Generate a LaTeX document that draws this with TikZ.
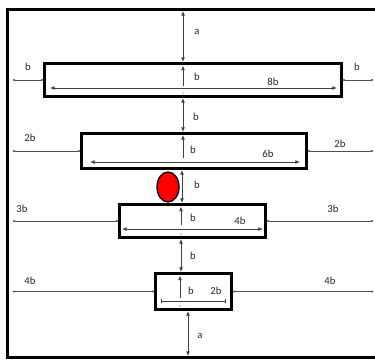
\documentclass[tikz,border=0pt]{standalone}
\usepackage{fontspec}
\setmainfont{Carlito}
\usetikzlibrary{arrows.meta}
\usetikzlibrary{shapes.geometric}

\tikzset{
  plate/.style 2 args={draw, line width=2.25pt, inner sep=0pt,
    minimum width=#1*0.75pt, minimum height=#2*0.75pt},
  dimarrow/.style={line width=0.65pt, black!75,
    {Latex[length=3.5pt,width=3pt]}-{Latex[length=3.5pt,width=3pt]}},
  uparrow/.style={line width=0.65pt, black!75, -{Latex[length=3.5pt,width=3pt]}},
  gapline/.style={line width=0.5pt, black!70,
    {Circle[length=1.5pt]}-{Circle[length=1.5pt]}},
  barline/.style={line width=0.5pt, black!75, {Bar[width=3pt]}-{Bar[width=3pt]}},
  lbl/.style={text=black!85, font=\fontsize{8}{9.5}\selectfont, inner sep=0pt},
  ball/.style={ellipse, draw, fill=red, line width=1pt,
    minimum width=22*0.75pt, minimum height=30*0.75pt, inner sep=0pt},
}

\begin{document}
\begin{tikzpicture}[x=0.75pt, y=-0.75pt]
  \useasboundingbox (0,0) rectangle (375,362);
  % outer frame, open on the right
  \draw[line width=2.25pt] (378,9.5) -| (7.5,357.5) -- (378,357.5);
  \coordinate (edgeL) at (13,0);
  \coordinate (edgeR) at (373,0);
  \coordinate (ftop) at (183,11);
  \coordinate (fbot) at (188,356);

  % the four plates
  \node[plate={297}{33}] (p1) at (193,80) {};
  \node[plate={225}{35}] (p2) at (194,151) {};
  \node[plate={146}{33}] (p3) at (192.5,221) {};
  \node[plate={76}{36}] (p4) at (193.5,291.5) {};
  \node[ball] (drop) at (168,187) {};

  % plate 1
  \draw[dimarrow] (ftop) -- (p1.north -| ftop);
  \node[lbl] (la1) at (197,32) {a};
  \coordinate (u1) at (183,86);
  \draw[uparrow] (u1) -- ++(0,-20.5);
  \node[lbl] (lb1) at (197,77) {b};
  \coordinate (w1a) at (50,88);
  \coordinate (w1b) at (337,88);
  \draw[dimarrow] (w1a) -- (w1b);
  \node[lbl] (lw1) at (273,82) {8b};
  \fill[black!70] (183,93) circle (0.6);
  \draw[gapline] (p1.west -| edgeL) -- (p1.west);
  \draw[gapline] (p1.east) -- (p1.east -| edgeR);
  \node[lbl] (ls1) at (28,67) {b};
  \node[lbl] (rs1) at (357,67) {b};

  % gap plate 1 - plate 2
  \draw[dimarrow] (p1.south -| ftop) -- (p2.north -| ftop);
  \node[lbl] (lg1) at (196,117) {b};

  % plate 2
  \coordinate (u2) at (183,158);
  \draw[uparrow] (u2) -- ++(0,-23);
  \node[lbl] (lb2) at (193,150) {b};
  \coordinate (w2a) at (90,162);
  \coordinate (w2b) at (300,162);
  \draw[dimarrow] (w2a) -- (w2b);
  \node[lbl] (lw2) at (268,154) {6b};
  \draw[gapline] (p2.west -| edgeL) -- (p2.west);
  \draw[gapline] (p2.east) -- (p2.east -| edgeR);
  \node[lbl] (ls2) at (30,138) {2b};
  \node[lbl] (rs2) at (340,144) {2b};

  % gap plate 2 - plate 3, with the drop
  \coordinate (ax2) at (182,0);
  \draw[dimarrow] (p2.south -| ax2) -- (p3.north -| ax2);
  \node[lbl] (lg2) at (197,185) {b};

  % plate 3
  \coordinate (u3) at (181,225);
  \draw[uparrow] (u3) -- ++(0,-18.5);
  \node[lbl] (lb3) at (193,218) {b};
  \coordinate (w3a) at (122,229);
  \coordinate (w3b) at (263,229);
  \draw[dimarrow] (w3a) -- (w3b);
  \node[lbl] (lw3) at (240,221) {4b};
  \fill[black!70] (181,234) circle (0.6);
  \draw[gapline] (p3.west -| edgeL) -- (p3.west);
  \draw[gapline] (p3.east) -- (p3.east -| edgeR);
  \node[lbl] (ls3) at (22,209) {3b};
  \node[lbl] (rs3) at (333,209) {3b};

  % gap plate 3 - plate 4
  \coordinate (ax3) at (181,0);
  \draw[dimarrow] (p3.south -| ax3) -- (p4.north -| ax3);
  \node[lbl] (lg3) at (193,256) {b};

  % plate 4
  \coordinate (u4) at (180,298);
  \draw[uparrow] (u4) -- ++(0,-22.5);
  \node[lbl] (lb4) at (191,291) {b};
  \coordinate (w4a) at (161,301);
  \coordinate (w4b) at (226,301);
  \draw[barline] (w4a) -- (w4b);
  \node[lbl] (lw4) at (216,291) {2b};
  \fill[black!70] (180,306) circle (0.6);
  \draw[gapline] (p4.west -| edgeL) -- (p4.west);
  \draw[gapline] (p4.east) -- (p4.east -| edgeR);
  \node[lbl] (ls4) at (30,281) {4b};
  \node[lbl] (rs4) at (330,281) {4b};

  % bottom gap
  \draw[dimarrow] (p4.south -| fbot) -- (fbot);
  \node[lbl] (la2) at (200,336) {a};
\end{tikzpicture}
\end{document}
